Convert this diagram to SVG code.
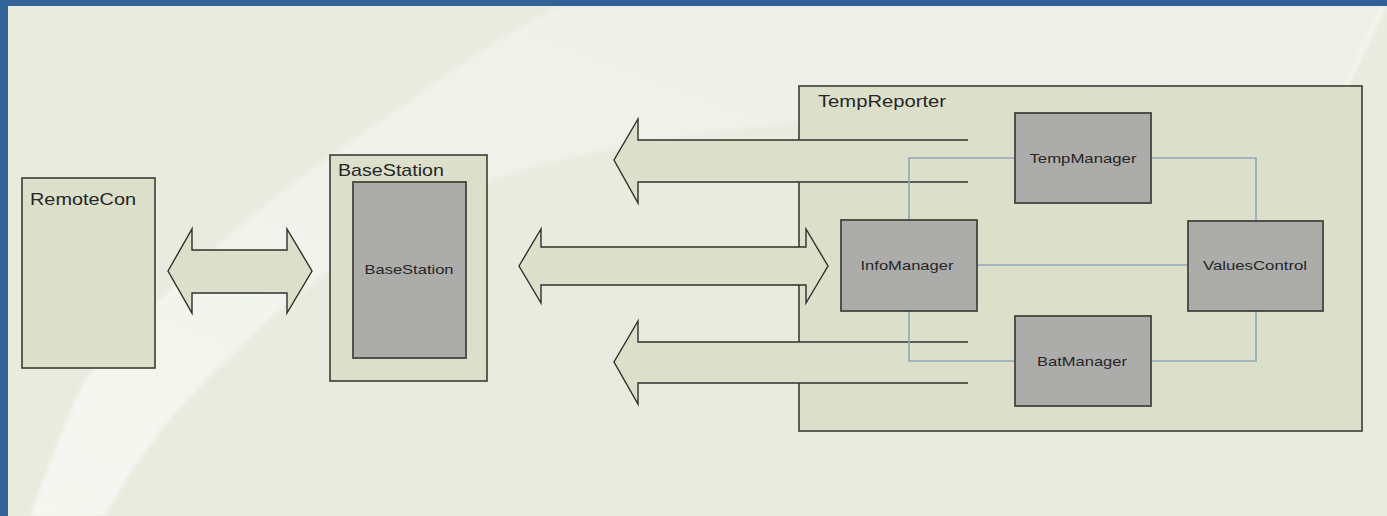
<svg xmlns="http://www.w3.org/2000/svg" width="1387" height="516" viewBox="0 0 1387 516">
  <defs>
    <style>
      .outer { fill: #dce0cb; stroke: #3c3c36; stroke-width: 1.6; }
      .inner { fill: #acacab; stroke: #45453f; stroke-width: 1.8; }
      .big { font-family: "Liberation Sans", Arial, sans-serif; font-size: 17px; fill: #262626; }
      .small { font-family: "Liberation Sans", Arial, sans-serif; font-size: 13.5px; fill: #262626; text-anchor: middle; }
      .arrow { fill: #dce0cb; stroke: #2f302b; stroke-width: 1.4; stroke-linejoin: miter; }
      .arrow-fill { fill: #dce0cb; stroke: none; }
      .arrow-edge { fill: none; stroke: #4d5045; stroke-width: 1.6; }
      .link { fill: none; stroke: #8fa7bd; stroke-width: 1.6; }
    </style>
    <linearGradient id="sweep" x1="0" y1="1" x2="1" y2="0">
      <stop offset="0" stop-color="#f6f7f2"/>
      <stop offset="0.45" stop-color="#f1f2eb"/>
      <stop offset="1" stop-color="#eeefe7"/>
    </linearGradient>
    <filter id="soft" x="-5%" y="-5%" width="110%" height="110%">
      <feGaussianBlur stdDeviation="2"/>
    </filter>
  </defs>

  <!-- page background with frame -->
  <rect x="0" y="0" width="1387" height="516" fill="#e9ebdf"/>
  <path d="M30 516 C 55 450, 70 410, 85 380 C 150 300, 260 200, 390 115 C 440 80, 490 40, 560 6 L 1385 6 L 1345 90 C 1000 100, 700 120, 520 170 C 400 210, 300 280, 187 400 C 150 440, 125 480, 105 516 Z" fill="url(#sweep)" filter="url(#soft)"/>
  <path d="M1343 92 L 1384 6" stroke="#f6f7f2" stroke-width="3" fill="none" filter="url(#soft)"/>
  <rect x="0" y="0" width="1387" height="6" fill="#316399"/>
  <rect x="0" y="0" width="8" height="516" fill="#316399"/>

  <!-- containers -->
  <g id="remotecon">
    <rect class="outer" x="22" y="178" width="133" height="190"/>
    <text class="big" x="30" y="205" textLength="106" lengthAdjust="spacingAndGlyphs">RemoteCon</text>
  </g>

  <g id="basestation">
    <rect class="outer" x="330" y="155" width="157" height="226"/>
    <text class="big" x="338" y="176" textLength="106" lengthAdjust="spacingAndGlyphs">BaseStation</text>
    <rect class="inner" x="353" y="182" width="113" height="176"/>
    <text class="small" x="409" y="274" textLength="89" lengthAdjust="spacingAndGlyphs">BaseStation</text>
  </g>

  <g id="tempreporter">
    <rect class="outer" x="799" y="86" width="563" height="345"/>
    <text class="big" x="818" y="107" textLength="128" lengthAdjust="spacingAndGlyphs">TempReporter</text>
  </g>

  <!-- block arrows and internal links -->
  <g id="connectors">
    <polygon class="arrow" points="168,271 192,229 192,250 287,250 287,229 312,271 287,313 287,293 192,293 192,313"/>
    <polygon class="arrow" points="519,266 541,229 541,247 806,247 806,229 828,266 806,303 806,285 541,285 541,303"/>

    <polygon class="arrow-fill" points="614,160 638,119 638,140 968,140 968,182 638,182 638,203"/>
    <polyline class="arrow" fill="none" points="968,140 638,140 638,119 614,160 638,203 638,182 968,182" style="fill:none"/>

    <polygon class="arrow-fill" points="614,362 638,321 638,342 968,342 968,383 638,383 638,404"/>
    <polyline class="arrow" points="968,342 638,342 638,321 614,362 638,404 638,383 968,383" style="fill:none"/>

    <polyline class="link" points="909,220 909,158 1015,158"/>
    <polyline class="link" points="1151,158 1256,158 1256,221"/>
    <line class="link" x1="977" y1="265" x2="1188" y2="265"/>
    <polyline class="link" points="909,311 909,361 1015,361"/>
    <polyline class="link" points="1151,361 1256,361 1256,311"/>
  </g>

  <g id="tempmanager">
    <rect class="inner" x="1015" y="113" width="136" height="90"/>
    <text class="small" x="1083" y="163" textLength="107" lengthAdjust="spacingAndGlyphs">TempManager</text>
  </g>

  <g id="infomanager">
    <rect class="inner" x="841" y="220" width="136" height="91"/>
    <text class="small" x="907" y="270" textLength="93" lengthAdjust="spacingAndGlyphs">InfoManager</text>
  </g>

  <g id="valuescontrol">
    <rect class="inner" x="1188" y="221" width="135" height="90"/>
    <text class="small" x="1255" y="270" textLength="104" lengthAdjust="spacingAndGlyphs">ValuesControl</text>
  </g>

  <g id="batmanager">
    <rect class="inner" x="1015" y="316" width="136" height="90"/>
    <text class="small" x="1082" y="366" textLength="90" lengthAdjust="spacingAndGlyphs">BatManager</text>
  </g>
</svg>
